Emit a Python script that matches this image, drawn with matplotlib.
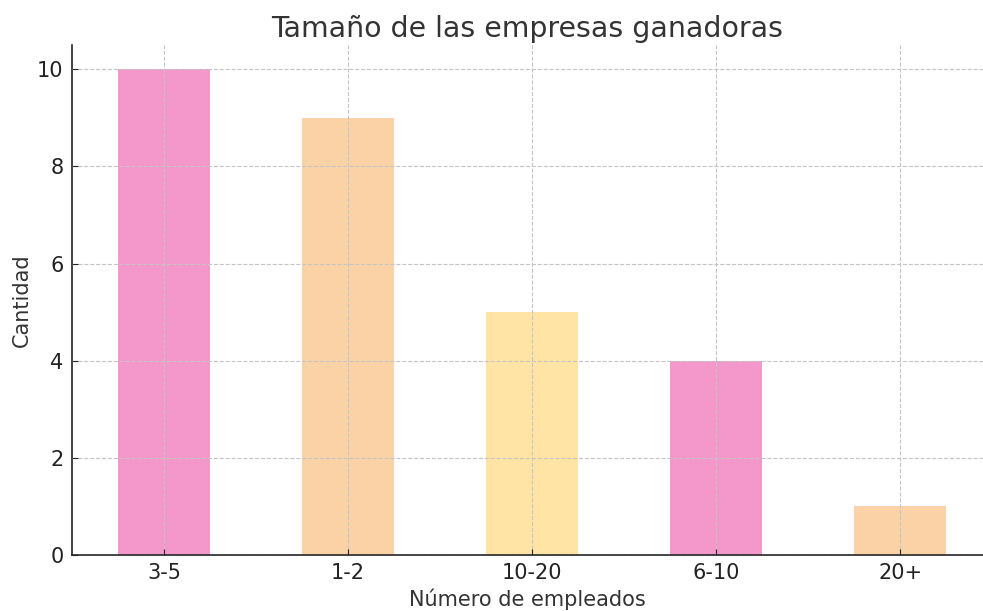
import matplotlib
matplotlib.use('Agg')
import matplotlib.pyplot as plt

categories = ["3-5", "1-2", "10-20", "6-10", "20+"]
counts = [10, 9, 5, 4, 1]
bar_colors = ["#F497CA", "#FAD2A6", "#FFE4A5", "#F497CA", "#FAD2A6"]

plt.rcParams['font.family'] = ['DejaVu Sans']
text_col = "#333333"

fig = plt.figure(figsize=(9.83, 6.11), dpi=100)
ax = fig.add_axes([72/983, (611-555)/611, (983-72)/983, (555-45)/611])

x = list(range(len(categories)))
ax.bar(x, counts, width=0.5, color=bar_colors, zorder=1)
ax.set_xticks(x)
ax.set_xticklabels(categories)
ax.set_xlim(-0.5, 4.45)
ax.set_ylim(0, 10.5)
ax.set_yticks([0, 2, 4, 6, 8, 10])

ax.grid(True, linestyle='--', color='#c4c4c4', linewidth=0.8, zorder=2)
ax.set_axisbelow(False)
for sp in ['top', 'right']:
    ax.spines[sp].set_visible(False)
for sp in ['left', 'bottom']:
    ax.spines[sp].set_color('#222222')
    ax.spines[sp].set_linewidth(1.2)

ax.tick_params(direction='in', length=4, labelsize=15, colors='#222222', pad=6)
ax.set_title("Tamaño de las empresas ganadoras", fontsize=20.4, color=text_col, pad=5.5)
ax.set_xlabel("Número de empleados", fontsize=15, color=text_col, labelpad=4)
ax.set_ylabel("Cantidad", fontsize=15, color=text_col, labelpad=4)

fig.savefig("out.png", dpi=100)
